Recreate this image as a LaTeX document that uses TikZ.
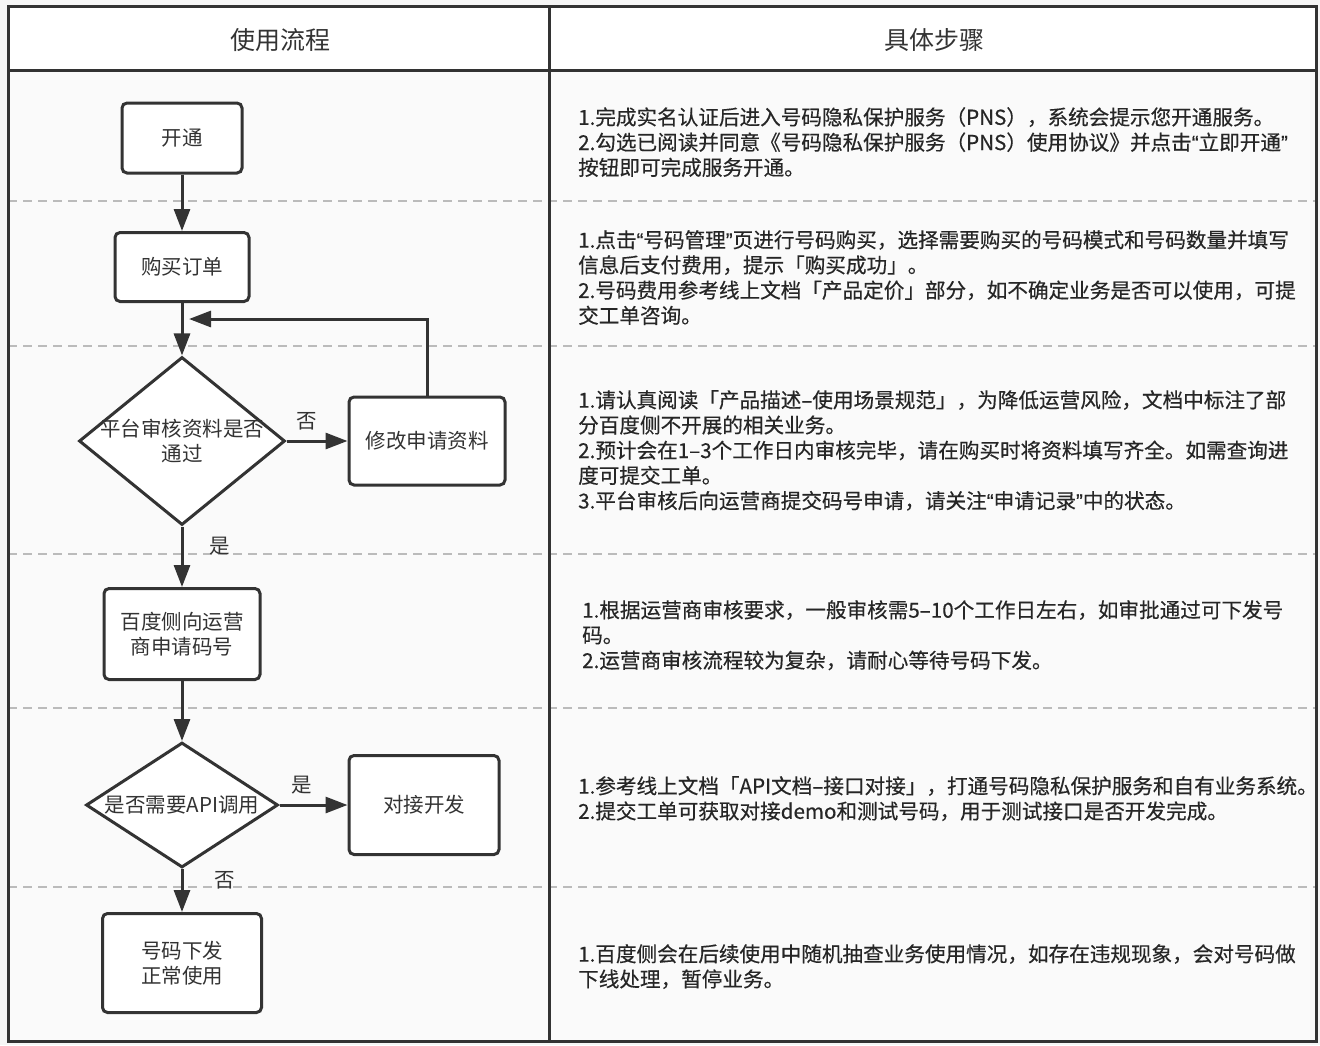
\documentclass[tikz,border=0pt]{standalone}
\usepackage{fontspec}
\setmainfont{Noto Sans CJK SC}
\newfontfamily\passofonte{Noto Sans CJK SC}[FakeBold=0.4]
\newfontfamily\aspasfonte{Liberation Sans}[FakeBold=0.4]
\newcommand\aspas[1]{{\aspasfonte“}#1{\aspasfonte”}}
\usetikzlibrary{arrows.meta,shapes.geometric}
\definecolor{linha}{HTML}{333333}
\definecolor{fundo}{HTML}{FAFAFA}
\definecolor{fora}{HTML}{F6F6F6}
\definecolor{tracejado}{HTML}{BBBBBB}
\tikzset{
  caixa/.style={draw=linha, line width=3pt, rounded corners=5pt, fill=white,
    text=linha, align=center, inner sep=0pt, font=\fontsize{20.5pt}{25pt}\selectfont},
  decisao/.style={draw=linha, line width=3pt, diamond, fill=white, inner sep=0pt},
  seta/.style={draw=linha, line width=3pt, -{Triangle[length=22pt,width=16pt]}},
  rotulo/.style={text=linha, align=center, font=\fontsize{20.5pt}{25pt}\selectfont},
  passo/.style={anchor=north west, align=left, inner sep=0pt, text=black!85,
    font=\passofonte\fontsize{20.6pt}{25.2pt}\selectfont},
  titulo/.style={text=linha, font=\fontsize{25pt}{28pt}\selectfont},
  divisao/.style={draw=tracejado, line width=1.5pt, dash pattern=on 9pt off 6pt}
}
\begin{document}
\begin{tikzpicture}[x=1pt,y=-1pt]
\useasboundingbox (0,0) rectangle (1320,1045);
% Fundo
\fill[fora] (0,0) rectangle (1320,1045);
\fill[white] (8,6) rectangle (1316,70);
\fill[fundo] (8,70) rectangle (1316,1041);
% Linhas tracejadas
\foreach \y in {201,346,554,708,887}
  \draw[divisao] (8,\y) -- (1316,\y);
% Moldura
\draw[linha, line width=3pt] (8,6) rectangle (1316,1041);
\draw[linha, line width=3pt] (8,70) -- (1316,70);
\draw[linha, line width=3pt] (549,6) -- (549,1041);
% Cabecalho
\node[titulo] (h1) at (280,40) {使用流程};
\node[titulo] (h2) at (934,40) {具体步骤};
% Fluxo
\node[caixa, minimum width=120pt, minimum height=70pt] (kt) at (182,138) {开通};
\node[caixa, minimum width=134pt, minimum height=69pt] (gm) at (182,267) {购买订单};
\node[decisao, minimum width=206pt, minimum height=168pt,
  label={[rotulo]center:平台审核资料是否\\通过}] (sh) at (182,441) {};
\node[caixa, minimum width=156pt, minimum height=88pt] (xg) at (427,441) {修改申请资料};
\node[caixa, minimum width=156pt, minimum height=91pt] (bd) at (182,634) {百度侧向运营\\商申请码号};
\node[decisao, minimum width=192pt, minimum height=125pt,
  label={[rotulo]center:是否需要API调用}] (api) at (182,805) {};
\node[caixa, minimum width=150pt, minimum height=99pt] (dj) at (424,805) {对接开发};
\node[caixa, minimum width=159pt, minimum height=99pt] (xf) at (182,963) {号码下发\\正常使用};
\coordinate (volta) at (189,319);
% Setas
\draw[seta] (kt) -- (gm);
\draw[seta] (gm) -- (sh);
\draw[seta] (sh) -- node[rotulo, above=6pt, pos=0.33] (n1) {否} (xg);
\draw[seta] (xg.north) |- (volta);
\draw[seta] (sh) -- node[rotulo, right=23pt, pos=0.33] (s1) {是} (bd);
\draw[seta] (bd) -- (api);
\draw[seta] (api) -- node[rotulo, above=6pt, pos=0.33] (s2) {是} (dj);
\draw[seta] (api) -- node[rotulo, right=28pt, pos=0.27] (n2) {否} (xf);
% Passos
\node[passo] (p1) at (578,107) {1.完成实名认证后进入号码隐私保护服务（PNS），系统会提示您开通服务。\\2.勾选已阅读并同意《号码隐私保护服务（PNS）使用协议》并点击\aspas{立即开通}\\按钮即可完成服务开通。};
\node[passo] (p2) at (578,230) {1.点击\aspas{号码管理}页进行号码购买，选择需要购买的号码模式和号码数量并填写\\信息后支付费用，提示「购买成功」。\\2.号码费用参考线上文档「产品定价」部分，如不确定业务是否可以使用，可提\\交工单咨询。};
\node[passo] (p3) at (578,390) {1.请认真阅读「产品描述–使用场景规范」，为降低运营风险，文档中标注了部\\分百度侧不开展的相关业务。\\2.预计会在1–3个工作日内审核完毕，请在购买时将资料填写齐全。如需查询进\\度可提交工单。\\3.平台审核后向运营商提交码号申请，请关注\aspas{申请记录}中的状态。};
\node[passo] (p4) at (582,600) {1.根据运营商审核要求，一般审核需5–10个工作日左右，如审批通过可下发号\\码。\\2.运营商审核流程较为复杂，请耐心等待号码下发。};
\node[passo] (p5) at (578,776) {1.参考线上文档「API文档–接口对接」，打通号码隐私保护服务和自有业务系统。\\2.提交工单可获取对接demo和测试号码，用于测试接口是否开发完成。};
\node[passo] (p6) at (578,944) {1.百度侧会在后续使用中随机抽查业务使用情况，如存在违规现象，会对号码做\\下线处理，暂停业务。};
\end{tikzpicture}
\end{document}
